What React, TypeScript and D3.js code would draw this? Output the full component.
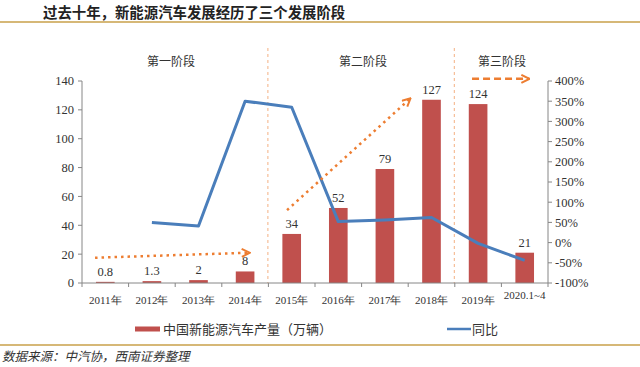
import * as d3 from 'd3';

const years = ['2011年', '2012年', '2013年', '2014年', '2015年', '2016年', '2017年', '2018年', '2019年', '2020.1~4'];
const output = [0.8, 1.3, 2, 8, 34, 52, 79, 127, 124, 21];
const growth: (number | null)[] = [null, 50, 41, 350, 335, 52, 56, 62, -2, -44];
const leftTicks = [0, 20, 40, 60, 80, 100, 120, 140];
const rightTicks = [-100, -50, 0, 50, 100, 150, 200, 250, 300, 350, 400];
const stages = ['第一阶段', '第二阶段', '第三阶段'];

const W = 640;
const H = 367;
const marginLeft = 82;
const marginRight = 92;
const plotTop = 81;
const plotBottom = 283;

const serif = '"Liberation Serif", "Times New Roman", serif';
const cjk = '"Noto Sans CJK SC", sans-serif';
const orange = '#ed7d31';
const red = '#c0504d';
const blue = '#4a7ebb';
const gold = '#c9a04a';
const axisGray = '#868686';

export default function App() {
    const x = d3.scaleBand(years, [marginLeft, W - marginRight]).paddingInner(0.6).paddingOuter(0.3);
    const xStep = d3.scaleBand(years, [marginLeft, W - marginRight]);
    const y = d3.scaleLinear([0, 140], [plotBottom, plotTop]);
    const y2 = d3.scaleLinear([-100, 400], [plotBottom, plotTop]);

    const cx = (d: string) => xStep(d)! + xStep.bandwidth() / 2;

    const line = d3.line<[string, number | null]>()
        .defined((d) => d[1] !== null)
        .x((d) => cx(d[0]))
        .y((d) => y2(d[1] as number));
    const linePath = line(years.map((d, i) => [d, growth[i]]));

    // stage dividers sit between 2014/2015 and 2018/2019
    const div1 = xStep('2015年')! - 0.5;
    const div2 = xStep('2019年')! - 0.5;
    const stageCenters = [171, 363, 502];

    // arrows in chart terms: position in category steps + value on the left axis
    const arrowPt = (i: number, v: number): [number, number] => [xStep(years[0])! + xStep.step() * i, y(v)];
    const arrows = [
        { from: arrowPt(0.28, 17.5), to: arrowPt(3.6, 21), dash: '2.5,4' },
        { from: arrowPt(4.4, 50.5), to: arrowPt(7.05, 128), dash: '2.5,4' },
        { from: arrowPt(8.37, 141.5), to: arrowPt(9.6, 141.5), dash: '7,4' },
    ];

    const xAxisTicks = d3.range(years.length + 1).map((i) => marginLeft + xStep.step() * i);

    return (
        <svg width={W} height={H} style={{ position: 'absolute', left: 0, top: 0, background: '#fff' }}>
            <defs>
                <marker id="chev" viewBox="0 0 10 10" refX="9" refY="5" markerWidth="10" markerHeight="10" markerUnits="userSpaceOnUse" orient="auto">
                    <path d="M1,1 L9,5 L1,9" fill="none" stroke={orange} strokeWidth="2" />
                </marker>
            </defs>

            <text x={43} y={18} fontFamily={cjk} fontWeight="bold" fontSize={14.4} fill="#222">
                过去十年，新能源汽车发展经历了三个发展阶段
            </text>
            <line x1={0} x2={W} y1={22} y2={22} stroke={gold} strokeWidth={1.5} />

            {stages.map((s, i) => (
                <text key={s} x={stageCenters[i]} y={66} textAnchor="middle" fontFamily={cjk} fontSize={12} fill="#333">{s}</text>
            ))}

            {[div1, div2].map((d, i) => (
                <line key={i} x1={d} x2={d} y1={48} y2={plotBottom} stroke="#f4b183" strokeWidth={1} strokeDasharray="3,3" />
            ))}

            {/* bars */}
            {output.map((v, i) => (
                <g key={years[i]}>
                    <rect x={x(years[i])} y={y(v)} width={x.bandwidth()} height={plotBottom - y(v)} fill={red} />
                    <text x={x(years[i])! + x.bandwidth() / 2} y={y(v) - 6} textAnchor="middle" fontFamily={serif} fontSize={12.5} fill="#333">{v}</text>
                </g>
            ))}

            {/* line */}
            <path d={linePath ?? ''} fill="none" stroke={blue} strokeWidth={3} strokeLinejoin="round" />

            {/* arrows */}
            {arrows.map((a, i) => (
                <line key={i} x1={a.from[0]} y1={a.from[1]} x2={a.to[0]} y2={a.to[1]} stroke={orange} strokeWidth={2.5}
                    strokeDasharray={a.dash} markerEnd="url(#chev)" />
            ))}

            {/* left axis */}
            <line x1={marginLeft} x2={marginLeft} y1={plotTop} y2={plotBottom} stroke={axisGray} />
            {leftTicks.map((t) => (
                <g key={t}>
                    <line x1={marginLeft - 4} x2={marginLeft} y1={y(t)} y2={y(t)} stroke={axisGray} />
                    <text x={marginLeft - 8} y={y(t)} dy="0.35em" textAnchor="end" fontFamily={serif} fontSize={12.5} fill="#333">{t}</text>
                </g>
            ))}

            {/* right axis */}
            <line x1={W - marginRight} x2={W - marginRight} y1={plotTop} y2={plotBottom} stroke={axisGray} />
            {rightTicks.map((t) => (
                <g key={t}>
                    <line x1={W - marginRight} x2={W - marginRight + 4} y1={y2(t)} y2={y2(t)} stroke={axisGray} />
                    <text x={W - marginRight + 7} y={y2(t)} dy="0.35em" fontFamily={serif} fontSize={12.5} fill="#333">{t}%</text>
                </g>
            ))}

            {/* x axis */}
            <line x1={marginLeft} x2={W - marginRight} y1={plotBottom} y2={plotBottom} stroke={axisGray} />
            {xAxisTicks.map((t, i) => (
                <line key={i} x1={t} x2={t} y1={plotBottom} y2={plotBottom + 4} stroke={axisGray} />
            ))}
            {years.map((d, i) => (
                <text key={d} x={cx(d)} y={i === years.length - 1 ? 295 : 300} dy="0.35em" textAnchor="middle"
                    fontFamily={serif} fontSize={11} fill="#333">{d}</text>
            ))}

            {/* legend */}
            <rect x={135} y={326.5} width={25} height={5} fill={red} />
            <text x={163} y={329} dy="0.35em" fontFamily={cjk} fontSize={13} fill="#333">中国新能源汽车产量（万辆）</text>
            <line x1={447} x2={471} y1={329} y2={329} stroke={blue} strokeWidth={2.5} />
            <text x={472} y={329} dy="0.35em" fontFamily={cjk} fontSize={13} fill="#333">同比</text>

            <line x1={0} x2={W} y1={345} y2={345} stroke={gold} strokeWidth={1.5} />
            <text x={2} y={357} dy="0.35em" fontFamily={cjk} fontStyle="italic" fontSize={12.5} fill="#333">数据来源：中汽协，西南证券整理</text>
        </svg>
    );
}
